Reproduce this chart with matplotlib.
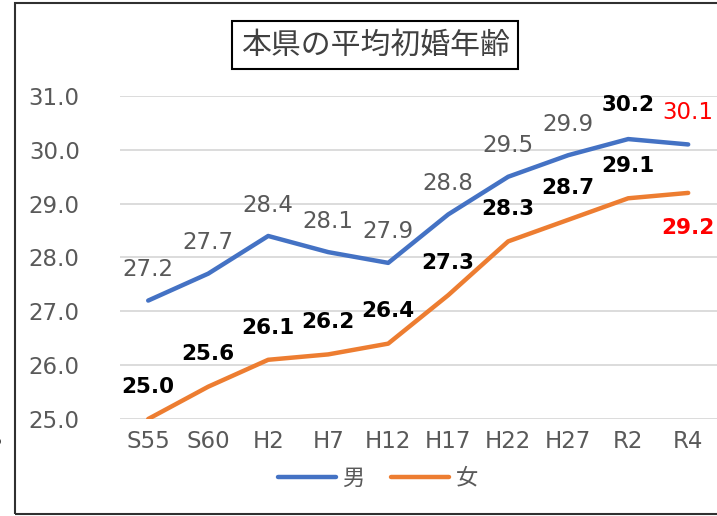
import matplotlib
matplotlib.use("Agg")
import matplotlib.pyplot as plt
from matplotlib.patches import Rectangle

# wide digits like the original; CJK falls back to Noto
plt.rcParams['font.family'] = ['DejaVu Sans', 'Noto Sans CJK JP']

# data
categories = ["S55", "S60", "H2", "H7", "H12", "H17", "H22", "H27", "R2", "R4"]
male = [27.2, 27.7, 28.4, 28.1, 27.9, 28.8, 29.5, 29.9, 30.2, 30.1]
female = [25.0, 25.6, 26.1, 26.2, 26.4, 27.3, 28.3, 28.7, 29.1, 29.2]
yticks = [25.0, 26.0, 27.0, 28.0, 29.0, 30.0, 31.0]

blue = "#4472C4"
orange = "#ED7D31"
grey = "#595959"
fs = 16.5

fig = plt.figure(figsize=(7.17, 5.16), dpi=100)
ax = fig.add_axes([120 / 717, 1 - 419 / 516, 1 - 120 / 717, (419 - 96) / 516])

x = list(range(len(categories)))
ax.plot(x, male, color=blue, lw=3.2, solid_capstyle='round', label="男", zorder=3)
ax.plot(x, female, color=orange, lw=3.2, solid_capstyle='round', label="女", zorder=3)

ax.set_xlim(-0.47, 9.48)
ax.set_ylim(25, 31)
ax.set_yticks(yticks)
ax.set_yticklabels([f"{v:.1f}" for v in yticks])
ax.set_xticks(x)
ax.set_xticklabels(categories)
ax.grid(axis='y', color="#d9d9d9", lw=1.3, zorder=0)
ax.set_axisbelow(True)
for s in ax.spines.values():
    s.set_visible(False)
ax.tick_params(axis='y', length=0, pad=29, labelsize=fs, labelcolor=grey)
ax.tick_params(axis='x', length=0, pad=8, labelsize=fs, labelcolor=grey)

# data labels
last = len(categories) - 1
for i, v in enumerate(male):
    if i == last:
        c, w, off = "red", "normal", 15
    elif i == last - 1:
        c, w, off = "black", "bold", 17
    else:
        c, w, off = grey, "normal", 14
    ax.annotate(f"{v:.1f}", (i, v), xytext=(0, off), textcoords='offset points',
                ha='center', va='bottom', fontsize=fs if w == "normal" else 15.5,
                color=c, fontweight=w)
for i, v in enumerate(female):
    if i == last:
        ax.annotate(f"{v:.1f}", (i, v), xytext=(0, -25), textcoords='offset points',
                    ha='center', va='center', fontsize=15.5, color="red", fontweight='bold')
    else:
        ax.annotate(f"{v:.1f}", (i, v), xytext=(0, 16), textcoords='offset points',
                    ha='center', va='bottom', fontsize=15.5, color="black", fontweight='bold')

# title
fig.text(375 / 717, 1 - 45 / 516, "本県の平均初婚年齢", ha='center', va='center',
         fontsize=21.5, color="#404040", family=['Noto Sans CJK JP'],
         bbox=dict(boxstyle='square,pad=0.3', facecolor='white', edgecolor='black', lw=1.5))

# legend
fig.legend(loc='center', bbox_to_anchor=(378 / 717, 1 - 478 / 516), ncol=2, frameon=False,
           prop={'family': 'Noto Sans CJK JP', 'size': 16}, handlelength=2.6,
           columnspacing=1.2, handletextpad=0.3, labelcolor=grey)

# outer chart border
fig.patches.append(Rectangle((15 / 717, 2 / 516), 1.2, 1 - 5 / 516, transform=fig.transFigure,
                             fill=False, edgecolor="#303030", lw=1.5))
fig.text(0.001, 1 - 440 / 516, "%", ha='right', va='center', fontsize=12)

fig.savefig("out.png", dpi=100)
